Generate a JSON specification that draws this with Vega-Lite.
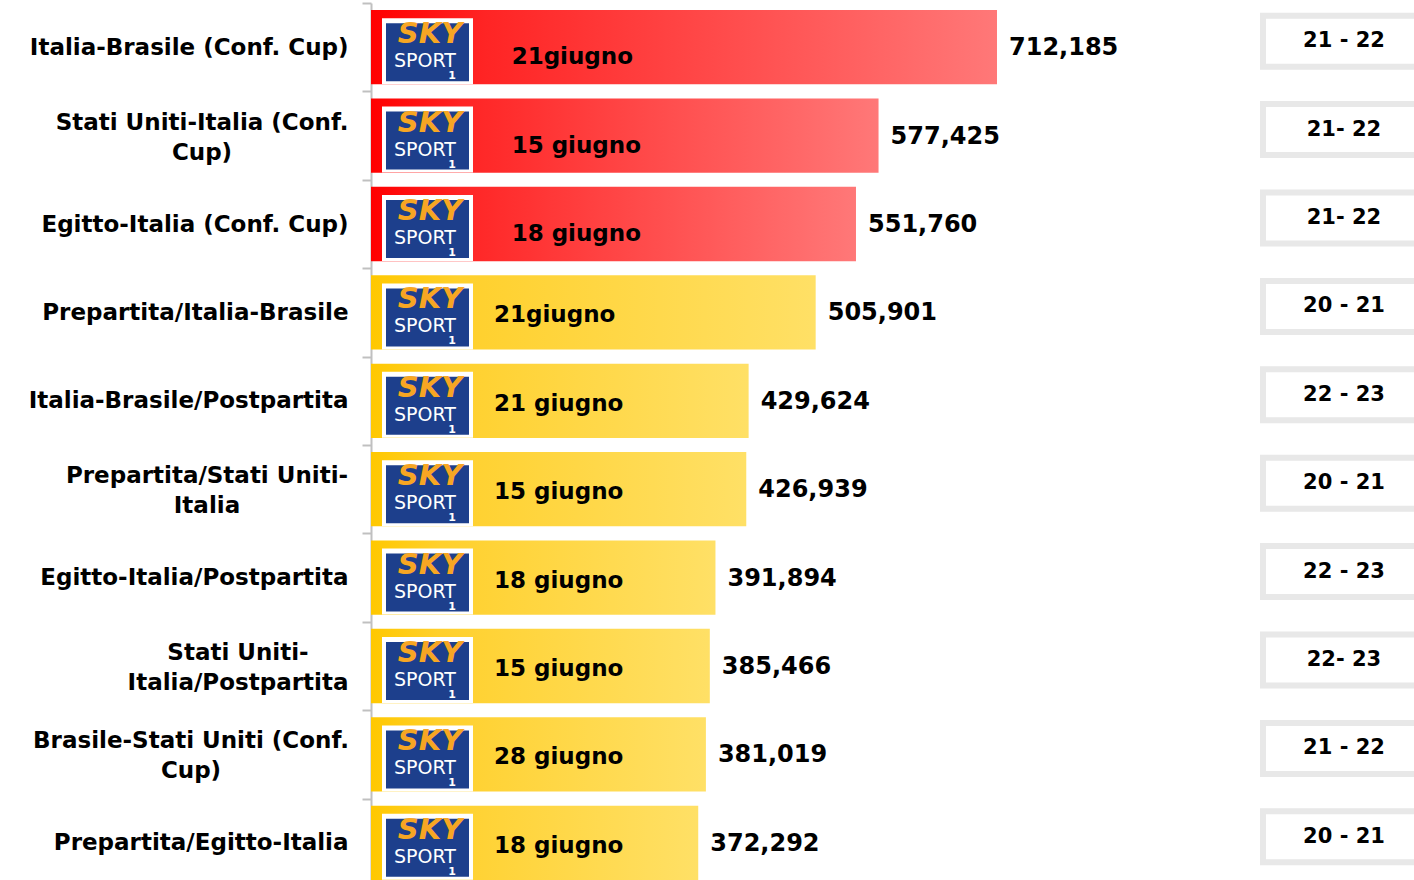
{
  "$schema": "https://vega.github.io/schema/vega-lite/v6.json",
  "width": 1043,
  "height": 877,
  "autosize": {"type": "none"},
  "padding": {"left": 371, "top": 3, "right": 0, "bottom": 0},
  "background": "white",
  "config": {"view": {"stroke": null}, "font": "DejaVu Sans"},
  "data": {
    "values": [
      {"prog": "Italia-Brasile (Conf. Cup)", "val": 712185, "date": "21giugno", "slot": "21 - 22", "grp": "r"},
      {"prog": "Stati Uniti-Italia (Conf.|Cup)", "val": 577425, "date": "15 giugno", "slot": "21- 22", "grp": "r"},
      {"prog": "Egitto-Italia (Conf. Cup)", "val": 551760, "date": "18 giugno", "slot": "21- 22", "grp": "r"},
      {"prog": "Prepartita/Italia-Brasile", "val": 505901, "date": "21giugno", "slot": "20 - 21", "grp": "y"},
      {"prog": "Italia-Brasile/Postpartita", "val": 429624, "date": "21 giugno", "slot": "22 - 23", "grp": "y"},
      {"prog": "Prepartita/Stati Uniti-|Italia", "val": 426939, "date": "15 giugno", "slot": "20 - 21", "grp": "y"},
      {"prog": "Egitto-Italia/Postpartita", "val": 391894, "date": "18 giugno", "slot": "22 - 23", "grp": "y"},
      {"prog": "Stati Uniti-|Italia/Postpartita", "val": 385466, "date": "15 giugno", "slot": "22- 23", "grp": "y"},
      {"prog": "Brasile-Stati Uniti (Conf.|Cup)", "val": 381019, "date": "28 giugno", "slot": "21 - 22", "grp": "y"},
      {"prog": "Prepartita/Egitto-Italia", "val": 372292, "date": "18 giugno", "slot": "20 - 21", "grp": "y"}
    ]
  },
  "encoding": {
    "y": {
      "field": "prog",
      "type": "nominal",
      "sort": null,
      "scale": {"range": [0, 884], "paddingInner": 0, "paddingOuter": 0},
      "axis": {
        "title": null,
        "tickBand": "extent",
        "domainColor": "#c0c0c0",
        "domainWidth": 2,
        "tickColor": "#c0c0c0",
        "tickWidth": 2,
        "tickSize": 9,
        "labelFont": "DejaVu Sans",
        "labelFontSize": 23,
        "labelFontWeight": "bold",
        "labelColor": "#000000",
        "labelPadding": 14,
        "labelLimit": 400,
        "labelExpr": "indexof(datum.label, '|') >= 0 ? '' : datum.label"
      }
    }
  },
  "layer": [
    {
      "transform": [{"filter": "datum.grp == 'r'"}],
      "mark": {
        "type": "bar",
        "height": {"band": 0.84},
        "color": {"gradient": "linear", "x1": 0, "x2": 1, "y1": 0, "y2": 0,
          "stops": [{"offset": 0, "color": "#ff0000"}, {"offset": 0.18, "color": "#ff2424"}, {"offset": 1, "color": "#ff7878"}]}
      },
      "encoding": {"x": {"field": "val", "type": "quantitative", "scale": {"domain": [0, 1186600]}, "axis": null}}
    },
    {
      "transform": [{"filter": "datum.grp == 'y'"}],
      "mark": {
        "type": "bar",
        "height": {"band": 0.84},
        "color": {"gradient": "linear", "x1": 0, "x2": 1, "y1": 0, "y2": 0,
          "stops": [{"offset": 0, "color": "#ffc800"}, {"offset": 0.2, "color": "#ffd02c"}, {"offset": 1, "color": "#ffe066"}]}
      },
      "encoding": {"x": {"field": "val", "type": "quantitative", "scale": {"domain": [0, 1186600]}, "axis": null}}
    },
    {
      "mark": {"type": "bar", "height": 66, "yOffset": 4, "color": "#ffffff"},
      "encoding": {
        "x": {"datum": 12514, "type": "quantitative", "scale": {"domain": [0, 1186600]}, "axis": null},
        "x2": {"datum": 116043}
      }
    },
    {
      "mark": {"type": "bar", "height": 58, "yOffset": 5, "color": "#1d3f8c"},
      "encoding": {
        "x": {"datum": 17065, "type": "quantitative", "scale": {"domain": [0, 1186600]}, "axis": null},
        "x2": {"datum": 111490}
      }
    },
    {
      "mark": {"type": "text", "text": "SKY", "font": "DejaVu Sans", "fontWeight": "bold", "fontStyle": "italic", "fontSize": 29, "color": "#f7a623", "align": "center", "baseline": "middle", "dy": -13},
      "encoding": {"x": {"datum": 67122, "type": "quantitative", "scale": {"domain": [0, 1186600]}, "axis": null}}
    },
    {
      "mark": {"type": "text", "text": "SPORT", "font": "DejaVu Sans", "fontSize": 19, "color": "#ffffff", "align": "center", "baseline": "middle", "dy": 14},
      "encoding": {"x": {"datum": 61434, "type": "quantitative", "scale": {"domain": [0, 1186600]}, "axis": null}}
    },
    {
      "mark": {"type": "text", "text": "1", "font": "DejaVu Sans", "fontWeight": "bold", "fontSize": 11, "color": "#ffffff", "align": "center", "baseline": "middle", "dy": 29},
      "encoding": {"x": {"datum": 92151, "type": "quantitative", "scale": {"domain": [0, 1186600]}, "axis": null}}
    },
    {
      "transform": [{"filter": "datum.grp == 'r'"}],
      "mark": {"type": "text", "font": "DejaVu Sans", "fontWeight": "bold", "fontSize": 23, "color": "#000000", "align": "left", "baseline": "middle", "dy": 10},
      "encoding": {
        "x": {"datum": 160000, "type": "quantitative", "scale": {"domain": [0, 1186600]}, "axis": null},
        "text": {"field": "date"}
      }
    },
    {
      "transform": [{"filter": "datum.grp == 'y'"}],
      "mark": {"type": "text", "font": "DejaVu Sans", "fontWeight": "bold", "fontSize": 23, "color": "#000000", "align": "left", "baseline": "middle", "dy": 3},
      "encoding": {
        "x": {"datum": 139933, "type": "quantitative", "scale": {"domain": [0, 1186600]}, "axis": null},
        "text": {"field": "date"}
      }
    },
    {
      "mark": {"type": "text", "font": "DejaVu Sans", "fontWeight": "bold", "fontSize": 24, "color": "#000000", "align": "left", "baseline": "middle", "dx": 12, "dy": 1},
      "encoding": {
        "x": {"field": "val", "type": "quantitative", "scale": {"domain": [0, 1186600]}, "axis": null},
        "text": {"field": "val", "type": "quantitative", "format": ",d"}
      }
    },
    {
      "mark": {"type": "bar", "height": 51, "yOffset": -6, "fill": "#ffffff", "stroke": "#e8e8e8", "strokeWidth": 6},
      "encoding": {
        "x": {"datum": 1014800, "type": "quantitative", "scale": {"domain": [0, 1186600]}, "axis": null},
        "x2": {"datum": 1193400}
      }
    },
    {
      "mark": {"type": "text", "font": "DejaVu Sans", "fontWeight": "bold", "fontSize": 21, "color": "#000000", "align": "center", "baseline": "middle", "dy": -6},
      "encoding": {
        "x": {"datum": 1106950, "type": "quantitative", "scale": {"domain": [0, 1186600]}, "axis": null},
        "text": {"field": "slot"}
      }
    },
    {
      "transform": [{"filter": "datum.prog == 'Stati Uniti-Italia (Conf.|Cup)'"}],
      "mark": {"type": "text", "font": "DejaVu Sans", "fontWeight": "bold", "fontSize": 23, "color": "#000000", "align": "center", "baseline": "middle", "lineBreak": "|", "lineHeight": 30, "dy": -13},
      "encoding": {
        "x": {"datum": -192266, "type": "quantitative", "scale": {"domain": [0, 1186600]}, "axis": null},
        "text": {"field": "prog"}
      }
    },
    {
      "transform": [{"filter": "datum.prog == 'Prepartita/Stati Uniti-|Italia'"}],
      "mark": {"type": "text", "font": "DejaVu Sans", "fontWeight": "bold", "fontSize": 23, "color": "#000000", "align": "center", "baseline": "middle", "lineBreak": "|", "lineHeight": 30, "dy": -13},
      "encoding": {
        "x": {"datum": -186578, "type": "quantitative", "scale": {"domain": [0, 1186600]}, "axis": null},
        "text": {"field": "prog"}
      }
    },
    {
      "transform": [{"filter": "datum.prog == 'Stati Uniti-|Italia/Postpartita'"}],
      "mark": {"type": "text", "font": "DejaVu Sans", "fontWeight": "bold", "fontSize": 23, "color": "#000000", "align": "center", "baseline": "middle", "lineBreak": "|", "lineHeight": 30, "dy": -13},
      "encoding": {
        "x": {"datum": -151310, "type": "quantitative", "scale": {"domain": [0, 1186600]}, "axis": null},
        "text": {"field": "prog"}
      }
    },
    {
      "transform": [{"filter": "datum.prog == 'Brasile-Stati Uniti (Conf.|Cup)'"}],
      "mark": {"type": "text", "font": "DejaVu Sans", "fontWeight": "bold", "fontSize": 23, "color": "#000000", "align": "center", "baseline": "middle", "lineBreak": "|", "lineHeight": 30, "dy": -13},
      "encoding": {
        "x": {"datum": -204780, "type": "quantitative", "scale": {"domain": [0, 1186600]}, "axis": null},
        "text": {"field": "prog"}
      }
    }
  ]
}
